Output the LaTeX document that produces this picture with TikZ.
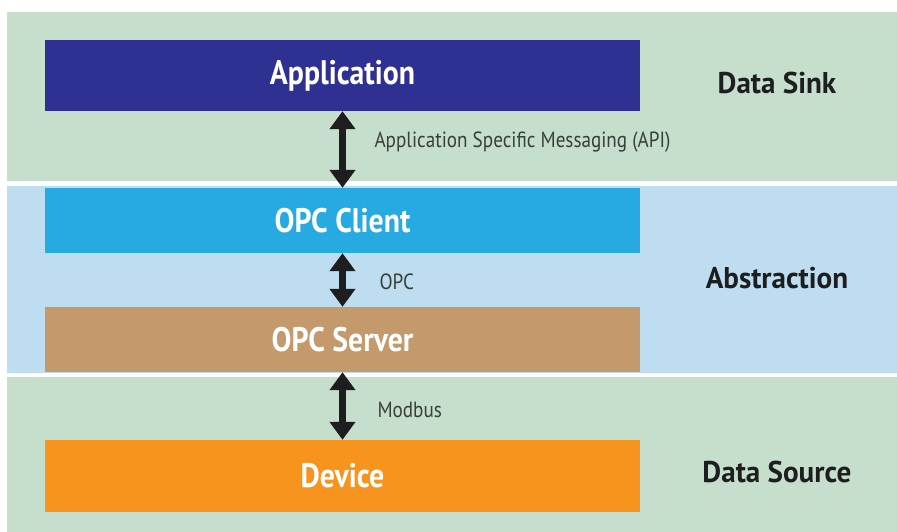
\documentclass[tikz,border=0pt]{standalone}
\usepackage{fontspec}
\setmainfont{PT Sans}
\newfontfamily\boxfont[FakeStretch=0.875]{PT Sans}
\newfontfamily\tierfont[FakeStretch=0.97]{PT Sans}
\newfontfamily\linkfont[FakeStretch=0.87]{PT Sans}
\usetikzlibrary{arrows.meta}
\definecolor{bandgreen}{RGB}{198,222,204}
\definecolor{bandblue}{RGB}{190,221,240}
\definecolor{appblue}{RGB}{46,49,146}
\definecolor{clientblue}{RGB}{39,170,225}
\definecolor{servertan}{RGB}{196,153,108}
\definecolor{deviceorange}{RGB}{247,148,29}
\definecolor{inkdark}{RGB}{30,30,32}
\definecolor{inkgray}{RGB}{55,64,58}
\tikzset{
  layerbox/.style={minimum width=595pt, inner sep=0pt, text=white,
    font=\boxfont\fontsize{34}{38}\selectfont\bfseries},
  tierlabel/.style={text=inkdark, font=\tierfont\fontsize{30}{34}\selectfont\bfseries},
  linklabel/.style={anchor=west, text=inkgray, font=\linkfont\fontsize{22}{26}\selectfont},
  link/.style={line width=7pt, draw=inkdark,
    {Triangle[length=18pt,width=25pt]}-{Triangle[length=18pt,width=25pt]}}
}
\begin{document}
\begin{tikzpicture}[x=1pt,y=-1pt]
  % page and the three layer bands
  \fill[white] (0,0) rectangle (897,532);
  \useasboundingbox (0,0) rectangle (897,532);
  \fill[bandgreen] (7,12) rectangle (897,181);
  \fill[bandblue] (7,186) rectangle (897,373);
  \fill[bandgreen] (7,377) rectangle (897,532);

  % stack of components
  \node[layerbox, fill=appblue, minimum height=71pt] (app) at (342.5,75.5) {Application};
  \node[layerbox, fill=clientblue, minimum height=65pt] (client) at (342.5,220.5) {OPC Client};
  \node[layerbox, fill=servertan, minimum height=65pt] (server) at (342.5,339.5) {OPC Server};
  \node[layerbox, fill=deviceorange, minimum height=72pt] (device) at (342.5,476) {Device};

  % tier names
  \node[tierlabel] (sink) at (777,83) {Data Sink};
  \node[tierlabel] (abstr) at (777,278) {Abstraction};
  \node[tierlabel] (source) at (777,472) {Data Source};

  % links between components
  \draw[link] (app.south) -- (client.north);
  \draw[link] (client.south) -- (server.north);
  \draw[link] (server.south) -- (device.north);

  \node[linklabel] (api) at (371,142) {Application Specific Messaging (API)};
  \node[linklabel] (opc) at (376,282) {OPC};
  \node[linklabel] (modbus) at (374,410) {Modbus};
\end{tikzpicture}
\end{document}
